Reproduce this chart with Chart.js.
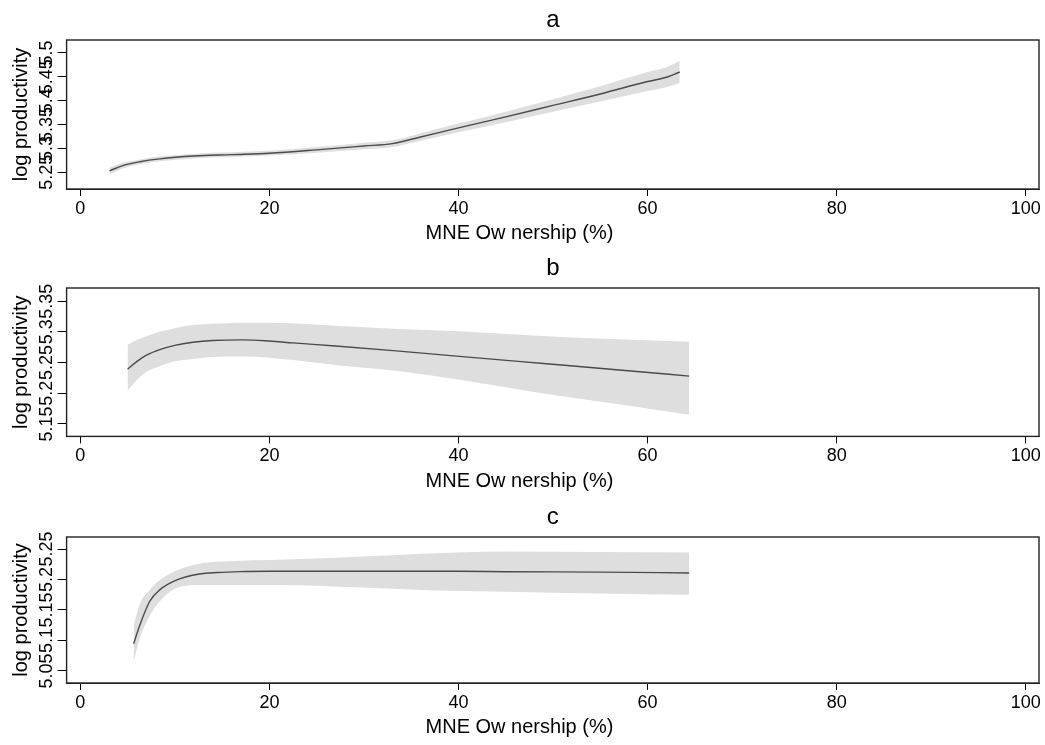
<!DOCTYPE html>
<html>
<head>
<meta charset="utf-8">
<script src="https://cdn.jsdelivr.net/npm/chart.js@4/dist/chart.umd.min.js"></script>
<style>
  html, body { margin: 0; padding: 0; background: #fff; }
  .panel { position: absolute; left: 0; width: 1045px; }
</style>
</head>
<body>
<div class="panel" style="top:0px;height:248px"><canvas id="ca"></canvas></div>
<div class="panel" style="top:248px;height:249px"><canvas id="cb"></canvas></div>
<div class="panel" style="top:497px;height:248px"><canvas id="cc"></canvas></div>
<script>
// ---------- data ----------
const xTicks = [0, 20, 40, 60, 80, 100];
const xTitle = "MNE Ow nership (%)";
const yTitle = "log productivity";

// Panel a
const xA    = [3.1, 4.5, 6.3, 8.4, 12, 16, 20, 25, 30, 33, 36, 40, 45, 50, 55, 60, 62, 63.4];
const midA  = [5.253, 5.264, 5.272, 5.278, 5.284, 5.287, 5.290, 5.297, 5.305, 5.310, 5.324, 5.343, 5.366, 5.390, 5.414, 5.440, 5.449, 5.460];
const loA   = [5.246, 5.258, 5.267, 5.273, 5.279, 5.282, 5.285, 5.291, 5.298, 5.303, 5.316, 5.334, 5.355, 5.377, 5.398, 5.420, 5.428, 5.437];
const hiA   = [5.260, 5.270, 5.277, 5.283, 5.289, 5.292, 5.295, 5.303, 5.312, 5.317, 5.332, 5.352, 5.377, 5.403, 5.430, 5.460, 5.470, 5.483];
const yTicksA = [5.25, 5.3, 5.35, 5.4, 5.45, 5.5];

// Panel b
const xB    = [5.0, 6, 7, 8.4, 10, 11.9, 14, 17.2, 20, 22.5, 27, 33.1, 40.1, 49.3, 57, 64.4];
const midB  = [5.239, 5.252, 5.262, 5.271, 5.278, 5.283, 5.286, 5.287, 5.285, 5.282, 5.277, 5.2695, 5.260, 5.248, 5.238, 5.228];
const loB   = [5.204, 5.222, 5.235, 5.244, 5.252, 5.256, 5.259, 5.260, 5.258, 5.254, 5.246, 5.237, 5.222, 5.199, 5.182, 5.165];
const hiB   = [5.279, 5.287, 5.293, 5.300, 5.306, 5.311, 5.313, 5.315, 5.315, 5.314, 5.310, 5.305, 5.301, 5.293, 5.288, 5.284];
const yTicksB = [5.15, 5.2, 5.25, 5.3, 5.35];

// Panel c
const xC    = [5.64, 6.27, 7.33, 8.39, 10.16, 12.6, 14.5, 16.9, 20, 30, 40, 45, 55, 64.4];
const midC  = [5.0945, 5.124, 5.164, 5.183, 5.199, 5.209, 5.2115, 5.213, 5.2135, 5.2135, 5.2135, 5.2128, 5.2122, 5.2108];
const loC   = [5.065, 5.102, 5.140, 5.164, 5.186, 5.191, 5.191, 5.191, 5.191, 5.187, 5.181, 5.180, 5.177, 5.175];
const hiC   = [5.124, 5.159, 5.183, 5.199, 5.215, 5.226, 5.229, 5.231, 5.232, 5.238, 5.2445, 5.246, 5.245, 5.2445];
const yTicksC = [5.05, 5.1, 5.15, 5.2, 5.25];

// ---------- drawing ----------
const FONT = "'Liberation Sans', Arial, sans-serif";
Chart.defaults.font.family = FONT;
Chart.defaults.color = '#000';

const frame = {
  id: 'frame',
  afterDraw(chart) {
    const {ctx, chartArea: a} = chart;
    ctx.save();
    ctx.strokeStyle = '#222';
    ctx.lineWidth = 1.4;
    ctx.strokeRect(a.left, a.top, a.right - a.left, a.bottom - a.top);
    ctx.restore();
  }
};

function pts(xs, ys) { return xs.map((x, i) => ({x: x, y: ys[i]})); }

function makeChart(id, title, xs, mid, lo, hi, yMin, yMax, yTicks, padBottom) {
  new Chart(document.getElementById(id), {
    type: 'line',
    data: {
      datasets: [
        { data: pts(xs, hi), borderWidth: 0, pointRadius: 0, fill: '+1', order: 2,
          backgroundColor: '#dedede', cubicInterpolationMode: 'monotone' },
        { data: pts(xs, lo), borderWidth: 0, pointRadius: 0, fill: false, order: 2,
          backgroundColor: '#dedede', cubicInterpolationMode: 'monotone' },
        { data: pts(xs, mid), borderWidth: 1.4, borderColor: '#4a4a4a', pointRadius: 0,
          fill: false, order: 0, cubicInterpolationMode: 'monotone' }
      ]
    },
    options: {
      responsive: true, maintainAspectRatio: false, animation: false,
      devicePixelRatio: 1,
      layout: { padding: { left: 9, right: 6, top: 0, bottom: padBottom } },
      plugins: {
        legend: { display: false }, tooltip: { enabled: false },
        title: { display: true, text: title, color: '#000', fullSize: false,
          font: { size: 24, weight: 'normal' }, padding: { top: 5.5, bottom: 5.7 } }
      },
      scales: {
        x: {
          type: 'linear', min: -1.45, max: 101.4,
          afterBuildTicks: s => { s.ticks = xTicks.map(v => ({value: v})); },
          grid: { drawOnChartArea: false, drawTicks: true, tickLength: 7, color: '#000' },
          border: { display: true, color: '#222' },
          ticks: { font: { size: 18 }, padding: 2, color: '#000', autoSkip: false, maxRotation: 0,
            callback: v => String(v) },
          title: { display: true, text: xTitle + ' '.repeat(12), font: { size: 20 }, color: '#000',
            padding: { top: 0, bottom: 0 } }
        },
        y: {
          type: 'linear', min: yMin, max: yMax,
          afterBuildTicks: s => { s.ticks = yTicks.map(v => ({value: v})); },
          grid: { drawOnChartArea: false, drawTicks: true, tickLength: 9, color: '#000' },
          border: { display: true, color: '#222' },
          ticks: { font: { size: 18 }, color: '#000', autoSkip: false,
            minRotation: 90, maxRotation: 90, crossAlign: 'center', padding: -6.5,
            callback: v => String(v) },
          title: { display: true, text: yTitle, font: { size: 20 }, color: '#000',
            padding: { top: 0, bottom: 16 } }
        }
      }
    },
    plugins: [frame]
  });
}

makeChart('ca', 'a', xA, midA, loA, hiA, 5.215, 5.527, yTicksA, 2.4);
makeChart('cb', 'b', xB, midB, loB, hiB, 5.1298, 5.3714, yTicksB, 4);
makeChart('cc', 'c', xC, midC, loC, hiC, 5.0302, 5.2698, yTicksC, 5.4);
</script>
</body>
</html>
